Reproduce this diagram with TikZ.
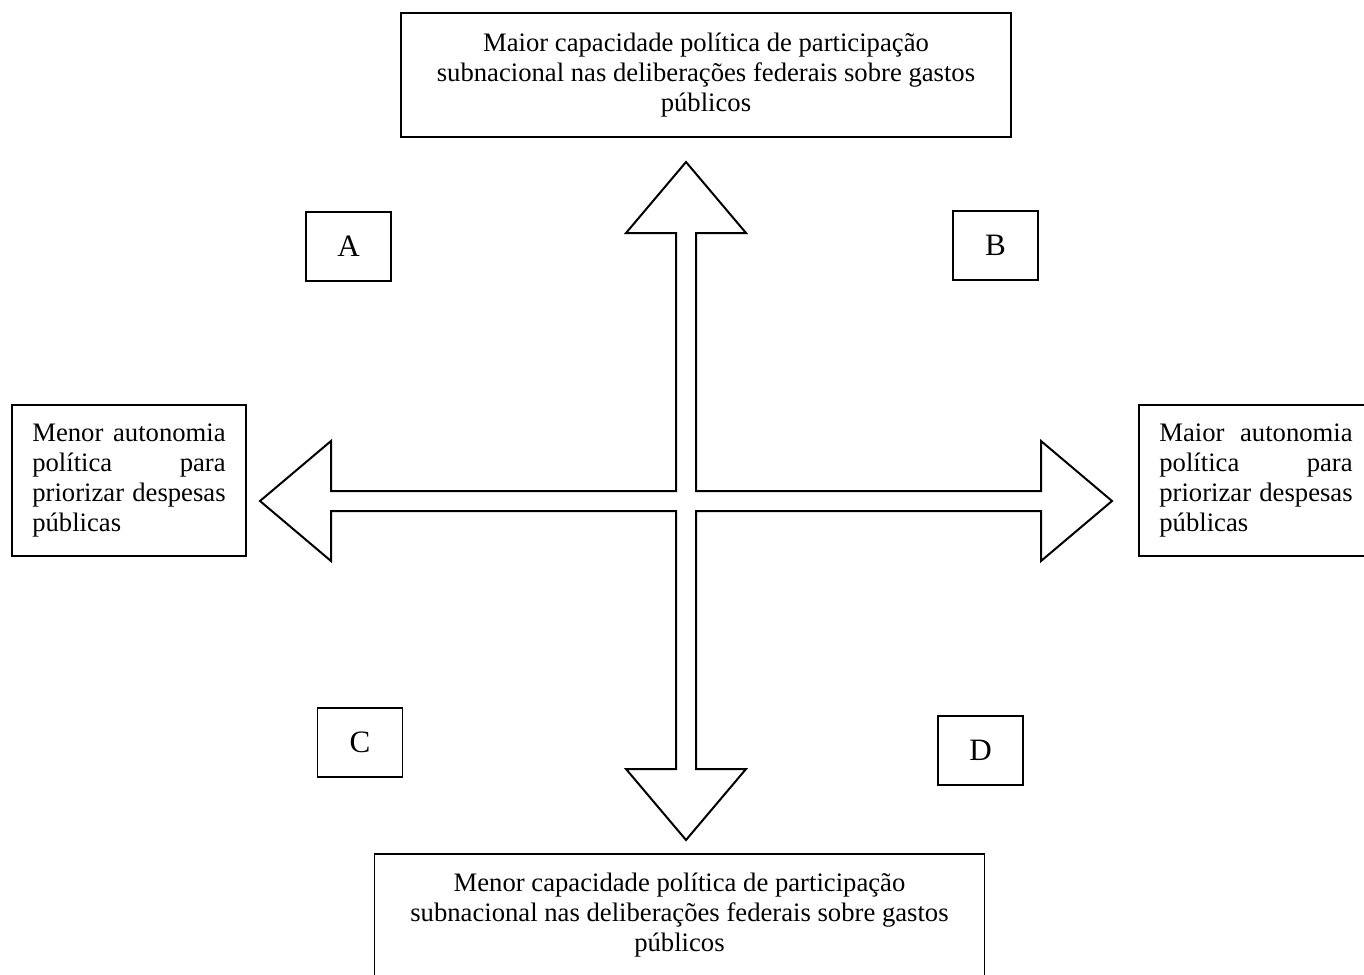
\documentclass[tikz,border=0pt]{standalone}
\usepackage{fontspec}
\setmainfont{Liberation Serif}

\begin{document}
\begin{tikzpicture}[x=.45pt,y=-.45pt,
	caixa/.style={draw,line width=.6pt,font=\fontsize{12}{13.6}\selectfont},
	eixo/.style={caixa,align=center,minimum width=274.5pt},
	lado/.style={caixa,align=left,text width=87pt,minimum width=105.3pt,minimum height=68pt},
	letra/.style={caixa,font=\fontsize{14}{16}\selectfont,minimum width=38.25pt,minimum height=31pt,inner sep=0pt}]
				\clip (0,0) rectangle (1364,974);
				% seta em cruz
				\draw[line width=.9pt,line join=miter] (686,162) -- (746,233) -- (696,233) -- (696,491)
				 -- (1041,491) -- (1041,441) -- (1112,501) -- (1041,561) -- (1041,511) -- (696,511)
				 -- (696,769) -- (746,769) -- (686,840) -- (626,769) -- (676,769) -- (676,511)
				 -- (331,511) -- (331,561) -- (260,501) -- (331,441) -- (331,491) -- (676,491)
				 -- (676,233) -- (626,233) -- cycle;
				 \node[eixo,minimum height=55.8pt] (topo) at (706,75) {Maior capacidade política de participação\\ subnacional nas deliberações federais sobre gastos\\ públicos};
				 \node[eixo,minimum height=54.9pt] (base) at (679.5,915) {Menor capacidade política de participação\\ subnacional nas deliberações federais sobre gastos\\ públicos};
				 \node[lado] (esq) at (129,480.5) {Menor\hfill autonomia\\ política\hfill para\\ priorizar\hfill despesas\\ públicas};
				 \node[lado] (dir) at (1256,480.5) {Maior\hfill autonomia\\ política\hfill para\\ priorizar\hfill despesas\\ públicas};
				 \node[letra] (qa) at (348.5,246.5) {A};
				 \node[letra] (qb) at (995.5,245.5) {B};
				 \node[letra] (qc) at (360,742.5) {C};
				 \node[letra] (qd) at (980.5,750.5) {D};
         	\end{tikzpicture}
\end{document}
